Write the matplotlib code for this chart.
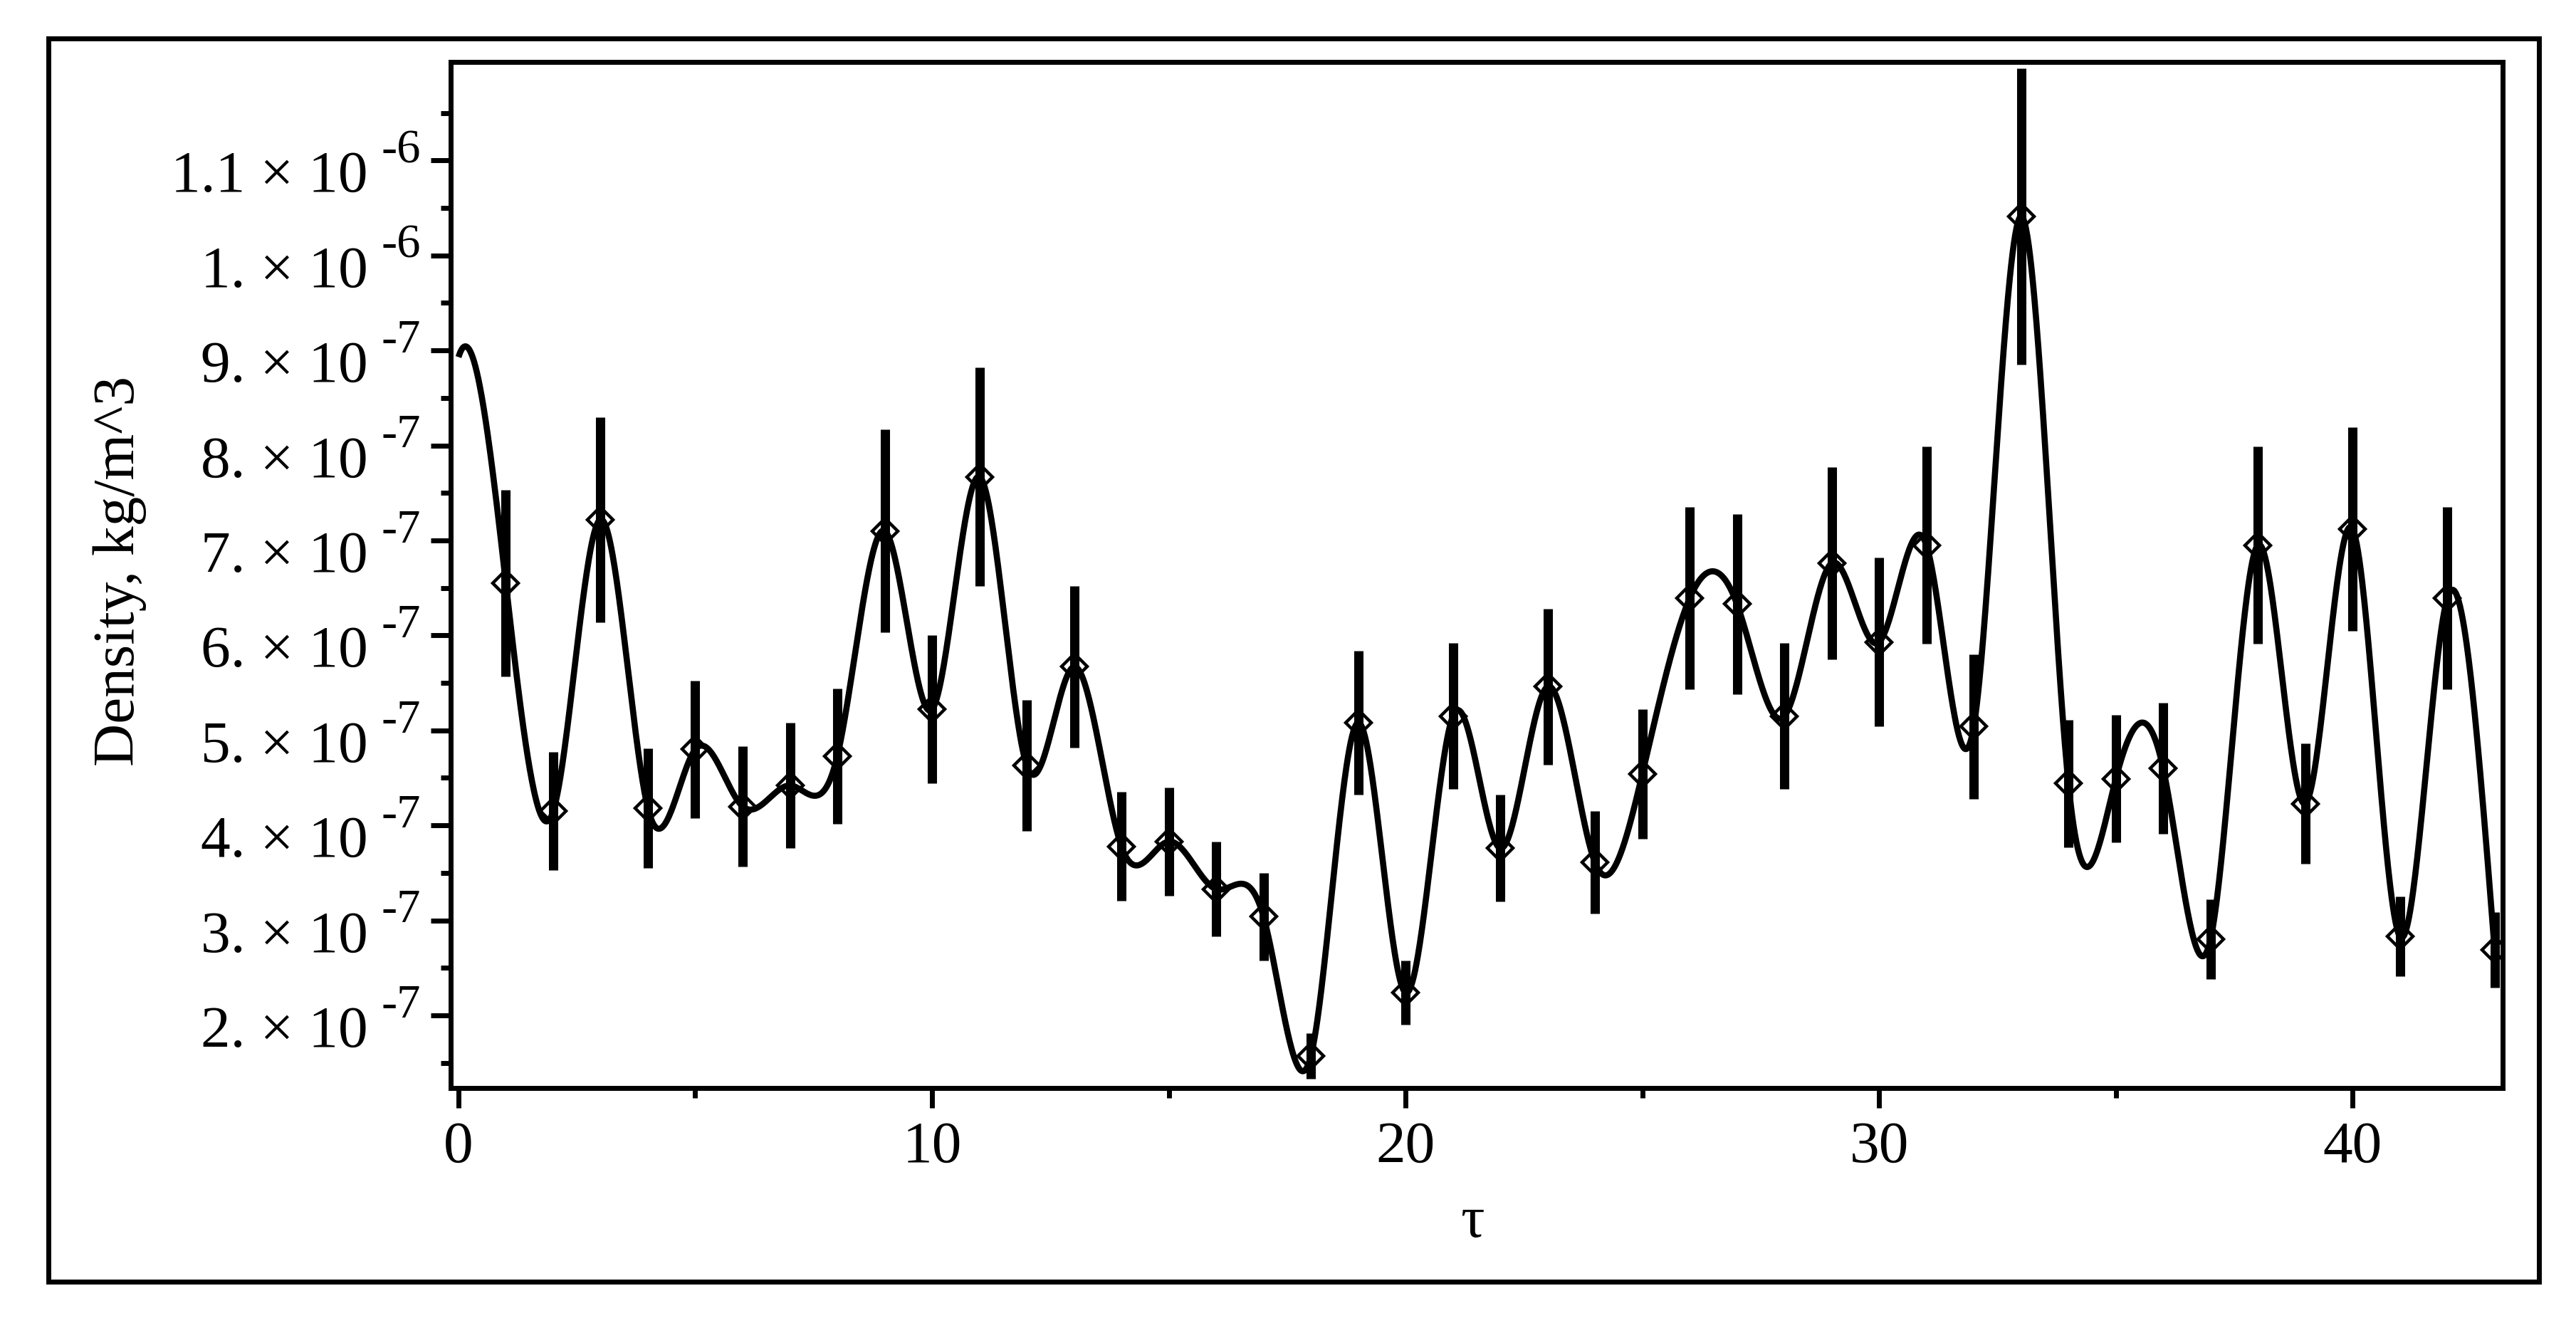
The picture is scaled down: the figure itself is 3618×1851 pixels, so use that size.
import numpy as np
import matplotlib
matplotlib.use("Agg")
import matplotlib.pyplot as plt
from matplotlib.patches import Rectangle
from matplotlib.ticker import FixedLocator, NullFormatter
import matplotlib.transforms as mtransforms

# ---------------- data ----------------
tau = list(range(1, 44))
density_e7 = [6.55, 4.15, 7.22, 4.18, 4.80, 4.20, 4.42, 4.73, 7.10, 5.22,
              7.67, 4.63, 5.67, 3.78, 3.83, 3.33, 3.04, 1.57, 5.08, 2.24,
              5.15, 3.76, 5.46, 3.61, 4.54, 6.39, 6.33, 5.15, 6.76, 5.93,
              6.95, 5.04, 10.41, 4.44, 4.49, 4.60, 2.80, 6.95, 4.23, 7.12,
              2.83, 6.39, 2.69]
error_e7 = [0.98, 0.62, 1.08, 0.63, 0.72, 0.63, 0.66, 0.71, 1.07, 0.78,
            1.15, 0.69, 0.85, 0.57, 0.57, 0.50, 0.46, 0.24, 0.76, 0.34,
            0.77, 0.56, 0.82, 0.54, 0.68, 0.96, 0.95, 0.77, 1.01, 0.89,
            1.04, 0.76, 1.56, 0.67, 0.67, 0.69, 0.42, 1.04, 0.63, 1.07,
            0.42, 0.96, 0.40]
curve_start_tau = 0
curve_start_e7 = 8.93

x_major = [0, 10, 20, 30, 40]
x_minor = [5, 15, 25, 35]
y_major_e7 = [2, 3, 4, 5, 6, 7, 8, 9, 10, 11]
y_minor_e7 = [1.5, 2.5, 3.5, 4.5, 5.5, 6.5, 7.5, 8.5, 9.5, 10.5, 11.5]
y_mantissa = ["2.", "3.", "4.", "5.", "6.", "7.", "8.", "9.", "1.", "1.1"]
y_exponent = ["-7", "-7", "-7", "-7", "-7", "-7", "-7", "-7", "-6", "-6"]

xlabel = "\u03c4"
ylabel = "Density, kg/m^3"

# ---------------- helpers ----------------
def cubic_spline(xk, yk, xs):
    """Cubic spline: not-a-knot at the left end, natural at the right end."""
    xk = np.asarray(xk, float); yk = np.asarray(yk, float)
    n = len(xk) - 1
    h = np.diff(xk)
    A = np.zeros((n + 1, n + 1)); b = np.zeros(n + 1)
    for i in range(1, n):
        A[i, i - 1] = h[i - 1]
        A[i, i] = 2 * (h[i - 1] + h[i])
        A[i, i + 1] = h[i]
        b[i] = 6 * ((yk[i + 1] - yk[i]) / h[i] - (yk[i] - yk[i - 1]) / h[i - 1])
    A[0, 0] = h[1]; A[0, 1] = -(h[0] + h[1]); A[0, 2] = h[0]
    A[n, n] = 1.0
    M = np.linalg.solve(A, b)
    idx = np.clip(np.searchsorted(xk, xs) - 1, 0, n - 1)
    x0 = xk[idx]; x1 = xk[idx + 1]; hh = x1 - x0
    t1 = (x1 - xs); t0 = (xs - x0)
    return (M[idx] * t1 ** 3 / (6 * hh) + M[idx + 1] * t0 ** 3 / (6 * hh)
            + (yk[idx] / hh - M[idx] * hh / 6) * t1
            + (yk[idx + 1] / hh - M[idx + 1] * hh / 6) * t0)

# ---------------- figure ----------------
W, H = 3618, 1851
DPI = 200
fig = plt.figure(figsize=(W / DPI, H / DPI), dpi=DPI)
fig.patch.set_facecolor("white")
FONT = "Liberation Serif"

def fx(px):
    return px / W

def fy(py):
    return 1 - py / H

# outer frame
fig.patches.append(Rectangle((fx(68), fy(1800)), fx(3566) - fx(68), fy(54) - fy(1800),
                             transform=fig.transFigure, fill=False,
                             edgecolor="black", linewidth=2.5))

ax = fig.add_axes([fx(633), fy(1528), fx(3515) - fx(633), fy(87) - fy(1528)])

scale = 1e-7
y_pts = np.array(density_e7) * scale
y_err = np.array(error_e7) * scale

knots_x = [curve_start_tau] + tau
knots_y = [curve_start_e7] + density_e7
xs = np.linspace(knots_x[0], knots_x[-1], 3000)
ys = cubic_spline(knots_x, knots_y, xs) * scale

ax.errorbar(tau, y_pts, yerr=y_err, fmt="none", ecolor="black",
            elinewidth=4.7, capsize=0, zorder=2)
ax.plot(xs, ys, color="black", linewidth=3.1, zorder=3,
        solid_capstyle="butt")
ax.plot(tau, y_pts, linestyle="none", marker="D", markersize=9,
        markerfacecolor="none", markeredgecolor="black",
        markeredgewidth=1.6, zorder=4)

ax.set_xlim(-0.165, 43.17)
ax.set_ylim(1.2354e-7, 1.2037e-6)

for sp in ax.spines.values():
    sp.set_linewidth(2.5)
    sp.set_color("black")

ax.xaxis.set_major_locator(FixedLocator(x_major))
ax.xaxis.set_minor_locator(FixedLocator(x_minor))
ax.yaxis.set_major_locator(FixedLocator([v * scale for v in y_major_e7]))
ax.yaxis.set_minor_locator(FixedLocator([v * scale for v in y_minor_e7]))
ax.yaxis.set_major_formatter(NullFormatter())
ax.yaxis.set_minor_formatter(NullFormatter())
ax.set_xticklabels([str(v) for v in x_major], fontfamily=FONT, fontsize=30)
ax.tick_params(axis="both", which="major", direction="out", length=10,
               width=2.5, color="black")
ax.tick_params(axis="both", which="minor", direction="out", length=5,
               width=2.5, color="black")
ax.tick_params(axis="x", which="major", pad=6.8)
ax.tick_params(top=False, right=False, which="both")

# y tick labels in Maple style: mantissa x 10 with raised exponent
blend = mtransforms.blended_transform_factory(ax.transAxes, ax.transData)
for v, m, e in zip(y_major_e7, y_mantissa, y_exponent):
    ax.annotate(m + " \u00d7 10", xy=(0, v * scale), xycoords=blend,
                xytext=(-41.8, -15.8), textcoords="offset points",
                ha="right", va="baseline", fontfamily=FONT, fontsize=30,
                annotation_clip=False)
    ax.annotate(e, xy=(0, v * scale), xycoords=blend,
                xytext=(-35.0, -1.0), textcoords="offset points",
                ha="left", va="baseline", fontfamily=FONT, fontsize=24,
                annotation_clip=False)

fig.text(fx(168), fy(802), ylabel, rotation=90, ha="center", va="center",
         fontfamily=FONT, fontsize=30)
fig.text(fx(2068), fy(1737), xlabel, ha="center", va="baseline",
         fontfamily=FONT, fontsize=30)

fig.savefig("out.png", dpi=DPI, facecolor="white")
